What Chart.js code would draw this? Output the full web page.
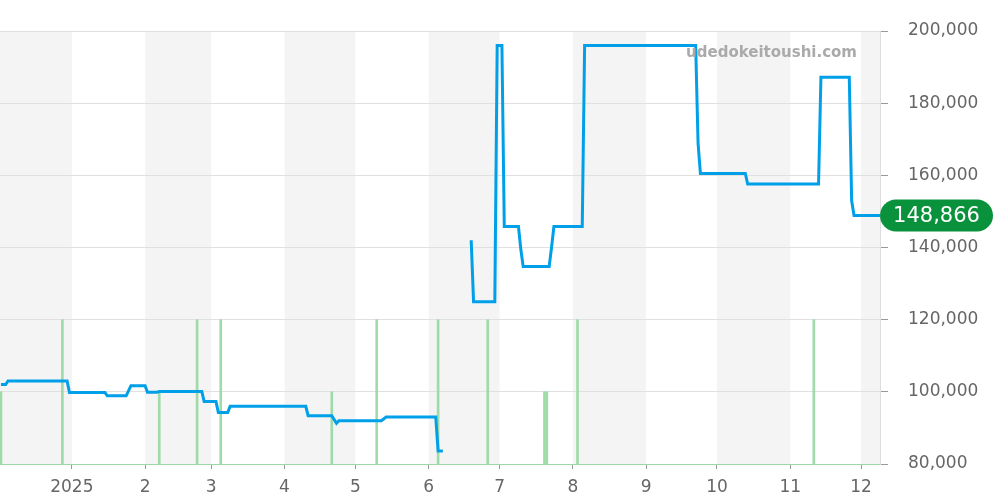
<!DOCTYPE html>
<html>
<head>
<meta charset="utf-8">
<script src="https://cdn.jsdelivr.net/npm/chart.js@4/dist/chart.umd.min.js"></script>
<style>
  body { margin: 0; background: #fff; }
  canvas { display: block; }
</style>
</head>
<body>
<canvas id="priceChart" width="1000" height="500"></canvas>
<script>
// day 0 = 2024-12-01
const monthTickDays = [31, 62, 90, 121, 151, 182, 212, 243, 274, 304, 335, 365];
const monthTickLabels = ['2025', '2', '3', '4', '5', '6', '7', '8', '9', '10', '11', '12'];

// shaded (every other) month bands, start/end day
const bandStarts = [0, 62, 121, 182, 243, 304, 365];
const bandEnds = [31, 90, 151, 212, 274, 335, 396];

// price line (null = no data)
const priceDays = [1, 3, 4, 29, 30, 45, 46, 54, 56, 62, 63, 67, 68, 86, 87, 92, 93, 97, 98, 130, 131, 141, 143, 144, 162, 164, 185, 186, 188,
  194,
  200, 201, 210, 211, 213, 214, 220, 221, 222, 233, 234, 235, 247, 248, 295, 296, 297, 316, 317, 347, 348, 360, 361, 362, 373];
const priceValues = [102000, 102000, 103000, 103000, 99800, 99800, 98900, 98900, 101700, 101700, 99900, 99900, 100100, 100100, 97300, 97300, 94300, 94300, 96000, 96000, 93400, 93400, 91300, 92000, 92000, 93000, 93000, 83600, 83600,
  null,
  142000, 125000, 125000, 196000, 196000, 145800, 145800, 139500, 134700, 134700, 140000, 145800, 145800, 196000, 196000, 169000, 160500, 160500, 157600, 157600, 187200, 187200, 153000, 148866, 148866];

// trade volume
const volumeDays = [1, 27, 68, 84, 94, 141, 160, 186, 207, 231, 232, 245, 345];
const volumeValues = [1, 2, 1, 2, 2, 1, 2, 2, 2, 1, 1, 2, 2];

const latestPrice = 148866;
const watermark = 'udedokeitoushi.com';

const fmt = v => v.toLocaleString('en-US');

const bandPlugin = {
  id: 'bands',
  beforeDraw(chart) {
    const { ctx, chartArea, scales } = chart;
    ctx.save();
    ctx.fillStyle = '#f4f4f4';
    for (let i = 0; i < bandStarts.length; i++) {
      const x1 = Math.max(chartArea.left, scales.x.getPixelForValue(bandStarts[i]));
      const x2 = Math.min(chartArea.right, scales.x.getPixelForValue(bandEnds[i]));
      if (x2 > x1) ctx.fillRect(x1, chartArea.top, x2 - x1, chartArea.bottom - chartArea.top);
    }
    ctx.restore();
  }
};

const labelPlugin = {
  id: 'lastLabel',
  afterDraw(chart) {
    const { ctx, chartArea, scales } = chart;
    ctx.save();
    // watermark
    ctx.font = 'bold 15px "DejaVu Sans"';
    ctx.fillStyle = '#aaaaaa';
    ctx.textAlign = 'right';
    ctx.textBaseline = 'middle';
    ctx.fillText(watermark, chartArea.right - 23, 53);

    // latest price pill
    const y = scales.y.getPixelForValue(latestPrice);
    const x = chartArea.right, w = 113, h = 32, r = 16;
    ctx.fillStyle = '#0a913c';
    ctx.beginPath();
    ctx.roundRect(x, y - h / 2, w, h, r);
    ctx.fill();
    ctx.fillStyle = '#fff';
    ctx.font = '21px "DejaVu Sans"';
    ctx.textAlign = 'center';
    ctx.fillText(fmt(latestPrice), x + w / 2, y + 1);
    ctx.restore();
  }
};

const ctx = document.getElementById('priceChart').getContext('2d');
new Chart(ctx, {
  data: {
    datasets: [{
      type: 'line',
      data: priceDays.map((d, i) => ({ x: d, y: priceValues[i] })),
      borderColor: '#00a0e9',
      borderWidth: 3,
      pointRadius: 0,
      tension: 0,
      spanGaps: false,
      yAxisID: 'y',
      order: 0
    }, {
      type: 'bar',
      data: volumeDays.map((d, i) => ({ x: d, y: volumeValues[i] })),
      backgroundColor: 'rgba(150, 216, 160, 0.9)',
      barThickness: 2,
      grouped: false,
      yAxisID: 'yv',
      order: 1
    }]
  },
  options: {
    responsive: false,
    animation: false,
    layout: { padding: { top: 31, left: 0, right: 0, bottom: 0 } },
    plugins: { legend: { display: false }, tooltip: { enabled: false } },
    scales: {
      x: {
        type: 'linear',
        min: 0.6,
        max: 373,
        offset: false,
        afterBuildTicks: scale => { scale.ticks = monthTickDays.map(v => ({ value: v })); },
        afterFit: scale => { scale.height = 36; },
        ticks: {
          callback: v => monthTickLabels[monthTickDays.indexOf(v)],
          color: '#666',
          font: { family: 'DejaVu Sans', size: 17 },
          padding: 8,
          maxRotation: 0
        },
        grid: { offset: false, drawOnChartArea: false, tickLength: 5, tickColor: '#999' },
        border: { color: 'rgba(140, 212, 150, 0.8)', dash: [1, 1] }
      },
      y: {
        position: 'right',
        min: 80000,
        max: 200000,
        afterFit: scale => { scale.width = 120; },
        ticks: {
          stepSize: 20000,
          callback: v => fmt(v),
          color: '#666',
          font: { family: 'DejaVu Sans', size: 17 },
          padding: 20
        },
        grid: { color: '#e0e0e0', tickLength: 8, tickColor: '#999' },
        border: { color: '#dddddd' }
      },
      yv: {
        display: false,
        min: 0,
        max: 6
      }
    }
  },
  plugins: [bandPlugin, labelPlugin]
});
</script>
</body>
</html>
